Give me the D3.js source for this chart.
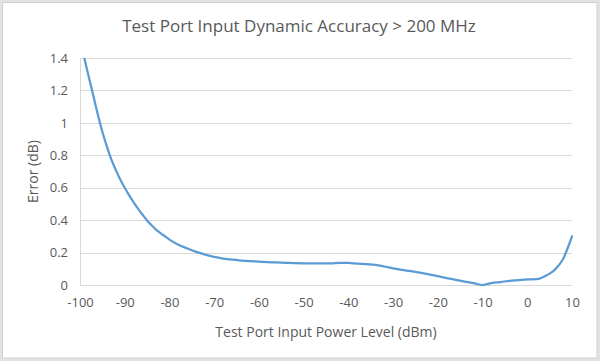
<!DOCTYPE html>
<html><head><meta charset="utf-8">
<script src="https://cdn.jsdelivr.net/npm/d3@7"></script>
<style>body{margin:0;background:#fff;} svg{display:block;}</style>
</head><body>
<script>
const powerLevels = [-99,-98,-97,-96,-95,-94,-93,-92,-91,-90,-89,-88,-87,-86,-85,-84,-83,-82,-81,-80,-79,-78,-76,-74,-72,-70,-68,-66,-64,-62,-60,-58,-56,-54,-52,-50,-48,-46,-44,-42,-40,-38,-36,-34,-32,-30,-28,-26,-24,-22,-20,-18,-16,-14,-12,-10,-8,-6,-4,-2,0,2,3,4,5,6,7,8,9,10];
const errorValues = [1.395,1.28,1.165,1.05,0.945,0.855,0.775,0.71,0.65,0.60,0.553,0.51,0.47,0.433,0.398,0.368,0.342,0.32,0.30,0.28,0.263,0.248,0.225,0.204,0.187,0.173,0.163,0.156,0.151,0.147,0.144,0.141,0.139,0.137,0.135,0.134,0.134,0.134,0.134,0.137,0.136,0.132,0.128,0.124,0.114,0.102,0.093,0.085,0.076,0.066,0.055,0.043,0.032,0.021,0.011,0.0,0.012,0.018,0.026,0.03,0.034,0.036,0.042,0.055,0.07,0.09,0.12,0.16,0.225,0.30];
const xTicks = [-100,-90,-80,-70,-60,-50,-40,-30,-20,-10,0,10];
const yTicks = [0,0.2,0.4,0.6,0.8,1,1.2,1.4];
const titleText = "Test Port Input Dynamic Accuracy > 200 MHz";
const xTitle = "Test Port Input Power Level (dBm)";
const yTitle = "Error (dB)";

const W = 600, H = 361;
const font = "'Open Sans', sans-serif";
const textColor = "#595959";
const svg = d3.select("body").append("svg").attr("width", W).attr("height", H);
svg.append("rect").attr("width", W).attr("height", H).attr("fill", "#e3e3e3");
svg.append("rect").attr("x", 2.5).attr("y", 2.5).attr("width", W - 5.5).attr("height", H - 5.5)
  .attr("fill", "#fff").attr("stroke", "#d0d0d0");

const x = d3.scaleLinear().domain([-100, 10]).range([80, 572]);
const y = d3.scaleLinear().domain([0, 1.4]).range([285, 58]);

// gridlines
svg.append("g").selectAll("line").data(yTicks).join("line")
  .attr("x1", x(-100)).attr("x2", x(10))
  .attr("y1", d => Math.round(y(d)) + 0.5).attr("y2", d => Math.round(y(d)) + 0.5)
  .attr("stroke", "#d9d9d9").attr("stroke-width", 1);
svg.append("line").attr("x1", x(-100) + 0.5).attr("x2", x(-100) + 0.5)
  .attr("y1", y(1.4)).attr("y2", y(0)).attr("stroke", "#d9d9d9");

// axes
const xAxis = d3.axisBottom(x).tickValues(xTicks).tickSize(0).tickPadding(13).tickFormat(d => String(d));
const gx = svg.append("g").attr("transform", `translate(0,${y(0)})`).call(xAxis);
gx.select(".domain").remove();
gx.selectAll("text").attr("fill", textColor).style("font-family", font).style("font-size", "13px");

const yAxis = d3.axisLeft(y).tickValues(yTicks).tickSize(0).tickPadding(12).tickFormat(d => String(+d.toFixed(1)));
const gy = svg.append("g").attr("transform", `translate(${x(-100)},0)`).call(yAxis);
gy.select(".domain").remove();
gy.selectAll("text").attr("fill", textColor).style("font-family", font).style("font-size", "13px");

// line
const line = d3.line().x((d, i) => x(powerLevels[i])).y(d => y(d)).curve(d3.curveMonotoneX);
svg.append("path").datum(errorValues).attr("d", line)
  .attr("fill", "none").attr("stroke", "#5b9bd5").attr("stroke-width", 2.25)
  .attr("stroke-linejoin", "round").attr("stroke-linecap", "round");

// titles
svg.append("text").attr("x", 299).attr("y", 32).attr("text-anchor", "middle")
  .attr("fill", textColor).style("font-family", font).style("font-size", "17px").text(titleText);
svg.append("text").attr("x", 326).attr("y", 337).attr("text-anchor", "middle")
  .attr("fill", textColor).style("font-family", font).style("font-size", "14px").text(xTitle);
svg.append("text").attr("transform", `translate(38,${(y(0) + y(1.4)) / 2}) rotate(-90)`).attr("text-anchor", "middle")
  .attr("fill", textColor).style("font-family", font).style("font-size", "14px").text(yTitle);
</script>
</body></html>
